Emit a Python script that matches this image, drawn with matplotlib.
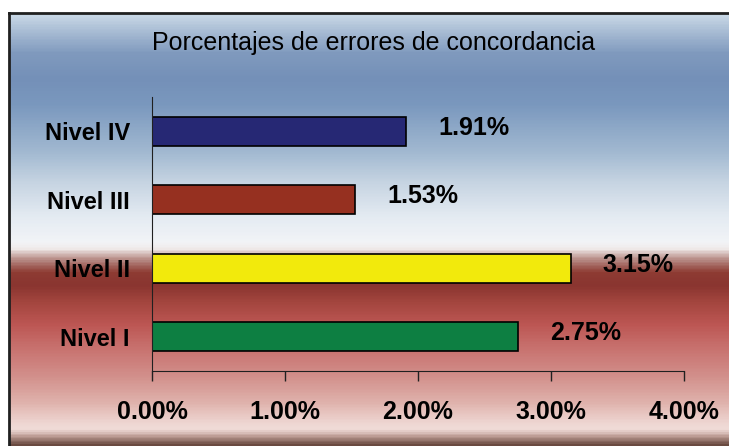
import numpy as np
import matplotlib
matplotlib.use('Agg')
import matplotlib.pyplot as plt
from matplotlib.colors import LinearSegmentedColormap

niveles = ["Nivel I", "Nivel II", "Nivel III", "Nivel IV"]
porcentajes = [2.75, 3.15, 1.53, 1.91]
colores = ["#0d7f42", "#f2ea0c", "#963020", "#262874"]
xticks = [0, 1, 2, 3, 4]
titulo = "Porcentajes de errores de concordancia"

plt.rcParams['font.family'] = ['Liberation Sans', 'DejaVu Sans']

fig = plt.figure(figsize=(7.29, 4.46), dpi=100)
fig.patch.set_facecolor("white")

# background gradient panel (top -> bottom)
stops = [
    (0.00, "#cad9e7"), (0.04, "#a8bcd4"), (0.09, "#809abe"), (0.15, "#7490b8"),
    (0.21, "#7a98be"), (0.32, "#a2b9d1"), (0.39, "#c6d4e2"), (0.47, "#e4ebf2"),
    (0.53, "#f2f4f7"), (0.545, "#efe9e8"), (0.57, "#b68a84"), (0.60, "#8e3b33"),
    (0.63, "#8a3530"), (0.67, "#a4463f"), (0.72, "#bc5653"), (0.77, "#c76f6c"),
    (0.84, "#d28f8b"), (0.90, "#dfb1ab"), (0.95, "#eed6d2"), (0.965, "#f0dcd8"),
    (0.98, "#bf9f97"), (1.00, "#6a4a40"),
]
cmap = LinearSegmentedColormap.from_list("fondo", stops)
bg = fig.add_axes([9 / 729, 0, 1 - 9 / 729, (446 - 13) / 446])
bg.imshow(np.linspace(0, 1, 400).reshape(-1, 1), aspect="auto", cmap=cmap,
          extent=[0, 1, 0, 1], origin="upper")
bg.set_xlim(0, 1)
bg.set_ylim(0, 1)
bg.axis("off")
fig.add_artist(plt.Line2D([9 / 729, 9 / 729], [0, (446 - 13) / 446], color="#202020", lw=2))
fig.add_artist(plt.Line2D([9 / 729, 1], [(446 - 13) / 446] * 2, color="#202020", lw=2))

fig.text(374 / 729, 1 - 43 / 446, titulo, ha="center", va="center", fontsize=18)

ax = fig.add_axes([152 / 729, 1 - 371 / 446, (684 - 152) / 729, (371 - 97) / 446])
ax.patch.set_alpha(0)
y = np.arange(len(niveles))
ax.barh(y, porcentajes, height=0.42, color=colores, edgecolor="black", linewidth=1.2)
for yi, v in zip(y, porcentajes):
    ax.text(v + 0.24, yi + 0.05, f"{v:.2f}%", va="center", ha="left",
            fontsize=18, fontweight="bold")

ax.set_xlim(0, 4)
ax.set_ylim(-0.5, 3.5)
ax.set_xticks(xticks)
ax.set_xticklabels([f"{t:.2f}%" for t in xticks], fontsize=18, fontweight="bold")
ax.set_yticks(y)
ax.set_yticklabels(niveles, fontsize=17, fontweight="bold")
ax.tick_params(axis="x", length=7, width=1, pad=14, color="#202020")
ax.tick_params(axis="y", length=0, pad=16)
for s in ["top", "right"]:
    ax.spines[s].set_visible(False)
ax.spines["left"].set_color("#202020")
ax.spines["bottom"].set_color("#202020")
ax.spines["left"].set_linewidth(0.8)
ax.spines["bottom"].set_linewidth(0.8)

fig.savefig("out.png", dpi=100)
